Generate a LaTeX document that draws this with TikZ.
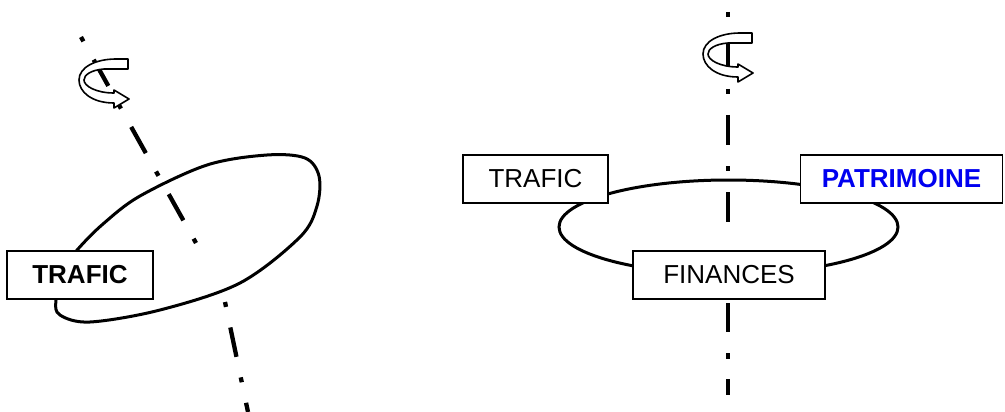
\documentclass[tikz,border=0pt]{standalone}
\usepackage{fontspec}
\setmainfont{Liberation Sans}
\definecolor{patblue}{RGB}{0,0,240}
\begin{document}
\begin{tikzpicture}[x=1pt,y=-1pt,
  box/.style={draw, fill=white, line width=1.6pt, rectangle, inner sep=0pt,
    minimum height=48pt, font=\fontsize{26}{30}\selectfont},
  loopline/.style={line width=3pt},
  axisline/.style={line width=4.3pt, line cap=butt, dash pattern=on 5pt off 21pt on 30pt off 21pt},
  ribbon/.style={draw, fill=white, line width=1.6pt, line join=round}]
\useasboundingbox (0,0) rectangle (1005,412);

% ---------- left panel ----------
\draw[loopline] plot[smooth cycle, tension=0.55] coordinates {
  (78,249) (103,224) (140,196) (207,165) (267,155) (305,158) (319,176) (317,206)
  (300,237) (240,283) (160,310) (90,322) (60,315) (56,300) (64,268)};
\coordinate (la1) at (81,37);
\coordinate (la2) at (196,243);
\coordinate (lb1) at (225,302);
\coordinate (lb2) at (248,412);
\draw[axisline] (la1) -- (la2);
\draw[axisline] (lb1) -- (lb2);
\begin{scope}[shift={(-624,26)}]
\draw[ribbon] (752,33) -- (752,43) -- (728,43) .. controls (715,44) and (708,49) .. (708,54)
  .. controls (708,60) and (720,67) .. (738,67) -- (738,64) -- (753,73) -- (738,82) -- (738,77)
  .. controls (716,77) and (703,66) .. (703,54) .. controls (703,41) and (720,33) .. (740,33) -- cycle;
\end{scope}
\node[box, minimum width=146pt, font=\fontsize{26}{30}\selectfont\bfseries] (ltrafic) at (80,275) {TRAFIC};

% ---------- right panel ----------
\draw[loopline] (728.5,227) ellipse [x radius=169.5, y radius=47];
\coordinate (ra1) at (728,12);
\coordinate (ra2) at (728,222);
\coordinate (rb1) at (728,303);
\coordinate (rb2) at (728,395);
\draw[axisline] (ra1) -- (ra2);
\draw[axisline, dash pattern=on 29pt off 21pt on 6pt off 20pt] (rb1) -- (rb2);
\draw[ribbon] (752,33) -- (752,43) -- (728,43) .. controls (715,44) and (708,49) .. (708,54)
  .. controls (708,60) and (720,67) .. (738,67) -- (738,64) -- (753,73) -- (738,82) -- (738,77)
  .. controls (716,77) and (703,66) .. (703,54) .. controls (703,41) and (720,33) .. (740,33) -- cycle;
\node[box, minimum width=145pt] (rtrafic) at (535.5,179) {TRAFIC};
\node[box, minimum width=202pt, text=patblue, font=\fontsize{26}{30}\selectfont\bfseries] (patrimoine) at (901.5,179) {PATRIMOINE};
\node[box, minimum width=192pt] (finances) at (729,275) {FINANCES};
\end{tikzpicture}
\end{document}
